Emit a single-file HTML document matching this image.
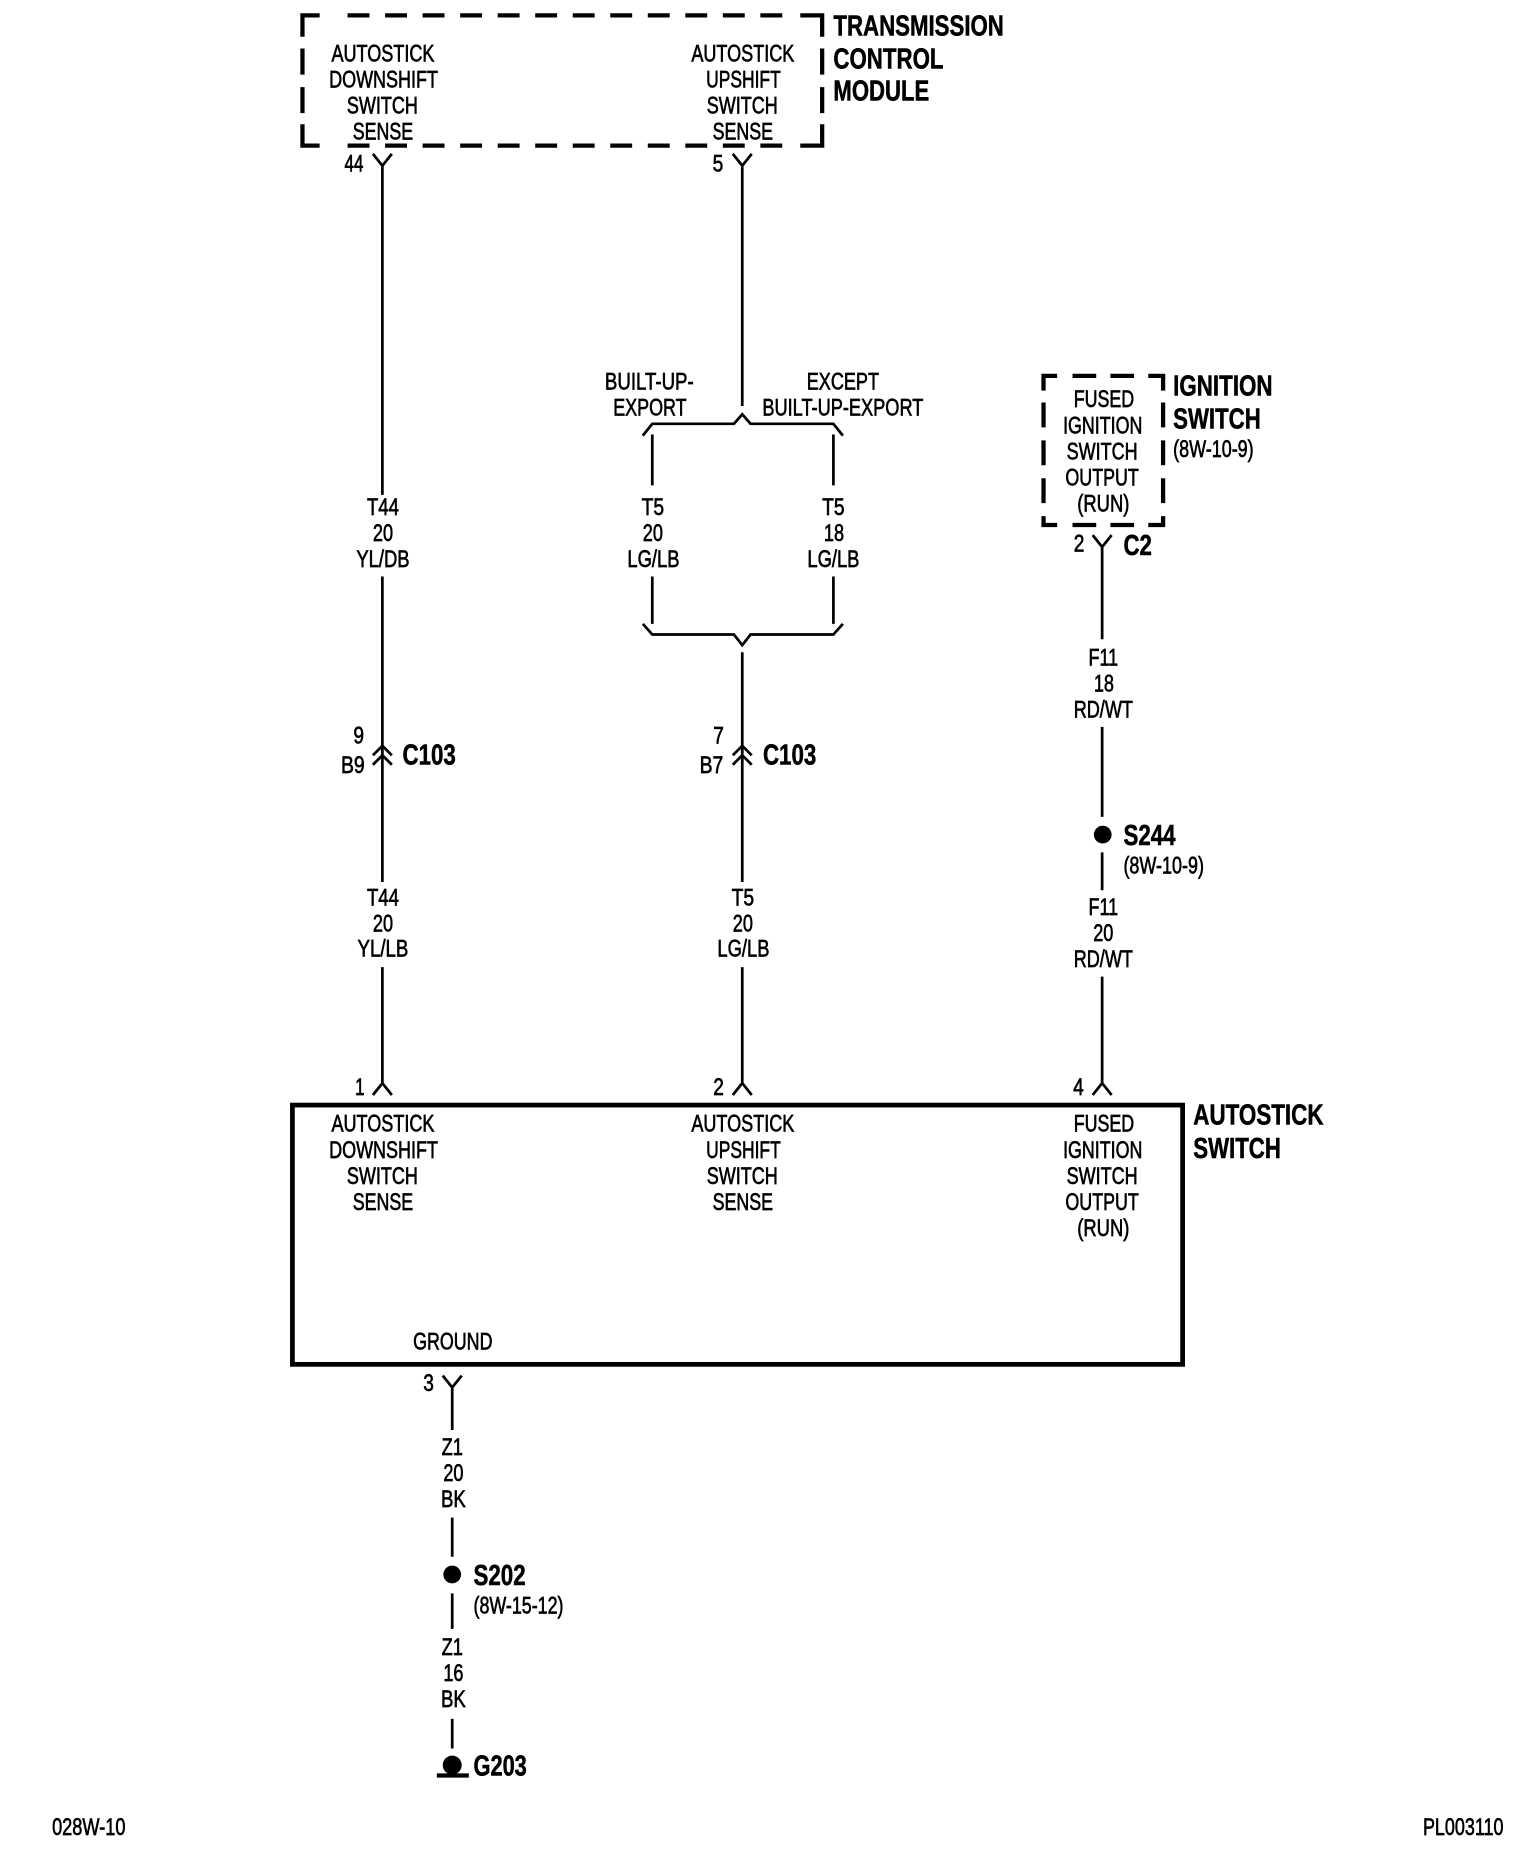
<!DOCTYPE html>
<html><head><meta charset="utf-8"><style>
html,body{margin:0;padding:0;background:#fff}
svg{display:block}
text{font-family:"Liberation Sans",sans-serif;fill:#000}
.r{font-size:20px;stroke:#000;stroke-width:.55px}
.m{text-anchor:middle}
.b{font-size:24px;font-weight:bold;stroke:#000;stroke-width:.45px}
.w{fill:none;stroke:#000;stroke-width:2.3}
.d{fill:none;stroke:#000;stroke-width:3.6}
</style></head><body>
<svg width="1536" height="1856" viewBox="0 0 1297.5 1567.8" xmlns="http://www.w3.org/2000/svg">
<rect width="1306" height="1578" fill="#fff"/>
<!-- TCM dashed box -->
<path class="d" d="M255.5 31V13H270M676 13H694.5V31M255.5 105V123H270M676 123H694.5V105"/>
<path class="d" stroke-dasharray="18.5 13.2" d="M293.6 13H661M293.6 123H661"/>
<path class="d" stroke-dasharray="22 10.6" d="M255.5 41V96M694.5 41V96"/>
<!-- Ignition dashed box -->
<path class="d" d="M881.5 330V317.5H893M970 317.5H982.5V330M881.5 436V443.5H893M970 443.5H982.5V436"/>
<path class="d" stroke-dasharray="20 12" d="M906 317.5H958M906 443.5H958"/>
<path class="d" stroke-dasharray="21 11" d="M881.5 340V425M982.5 340V425"/>
<!-- Autostick switch box -->
<rect x="247" y="933.5" width="752" height="219" fill="none" stroke="#000" stroke-width="4"/>
<!-- wire A -->
<path class="w" d="M315 130L323 140L331 130M323 140V418M323 487V745M315 638L323 630L331 638M315 646L323 638L331 646M323 817V915M315 925L323 915L331 925"/>
<!-- wire B -->
<path class="w" d="M619 130L627 140L635 130M627 140V343M543 368L551 358H620L627 350L634 358H704L712 368M551 367V410M704 367V410M551 487V527M704 487V527M543 527L551 536H620L627 545L634 536H704L712 527M627 551V745M619 638L627 630L635 638M619 646L627 638L635 646M627 817V915M619 925L627 915L635 925"/>
<!-- wire C -->
<path class="w" d="M923 452L931 462L939 452M931 462V540M931 614V690M931 720V752M931 825V915M923 925L931 915L939 925"/>
<circle cx="931.5" cy="705" r="7.5"/>
<!-- wire D -->
<path class="w" d="M374 1162L382 1172L390 1162M382 1172V1208M382 1282V1315M382 1346V1376M382 1452V1477"/>
<circle cx="382" cy="1330" r="7.5"/>
<circle cx="382" cy="1491" r="8"/>
<rect x="369" y="1498" width="27" height="3.6"/>
<!-- TCM labels -->
<text class="r m" x="323.5" y="52" textLength="87" lengthAdjust="spacingAndGlyphs">AUTOSTICK</text>
<text class="r m" x="324" y="74" textLength="92" lengthAdjust="spacingAndGlyphs">DOWNSHIFT</text>
<text class="r m" x="323" y="96" textLength="60" lengthAdjust="spacingAndGlyphs">SWITCH</text>
<text class="r m" x="323.5" y="118" textLength="51" lengthAdjust="spacingAndGlyphs">SENSE</text>
<text class="r m" x="627.5" y="52" textLength="87" lengthAdjust="spacingAndGlyphs">AUTOSTICK</text>
<text class="r m" x="628" y="74" textLength="63" lengthAdjust="spacingAndGlyphs">UPSHIFT</text>
<text class="r m" x="627" y="96" textLength="60" lengthAdjust="spacingAndGlyphs">SWITCH</text>
<text class="r m" x="627.5" y="118" textLength="51" lengthAdjust="spacingAndGlyphs">SENSE</text>
<text class="b" x="704" y="30" textLength="144" lengthAdjust="spacingAndGlyphs">TRANSMISSION</text>
<text class="b" x="704" y="58" textLength="93" lengthAdjust="spacingAndGlyphs">CONTROL</text>
<text class="b" x="704" y="85" textLength="81" lengthAdjust="spacingAndGlyphs">MODULE</text>
<text class="r" x="291" y="145" textLength="16" lengthAdjust="spacingAndGlyphs">44</text>
<text class="r" x="602" y="145" textLength="9" lengthAdjust="spacingAndGlyphs">5</text>
<!-- branch labels -->
<text class="r m" x="548.5" y="329" textLength="75" lengthAdjust="spacingAndGlyphs">BUILT-UP-</text>
<text class="r m" x="549" y="351" textLength="62" lengthAdjust="spacingAndGlyphs">EXPORT</text>
<text class="r m" x="712" y="329" textLength="61" lengthAdjust="spacingAndGlyphs">EXCEPT</text>
<text class="r m" x="712" y="351" textLength="136" lengthAdjust="spacingAndGlyphs">BUILT-UP-EXPORT</text>
<!-- wire labels A -->
<text class="r m" x="323.5" y="435" textLength="27" lengthAdjust="spacingAndGlyphs">T44</text>
<text class="r m" x="323.5" y="457" textLength="17" lengthAdjust="spacingAndGlyphs">20</text>
<text class="r m" x="323.5" y="479" textLength="45" lengthAdjust="spacingAndGlyphs">YL/DB</text>
<text class="r m" x="303" y="628" textLength="9" lengthAdjust="spacingAndGlyphs">9</text>
<text class="r m" x="298" y="653" textLength="20" lengthAdjust="spacingAndGlyphs">B9</text>
<text class="b" x="340" y="646" textLength="45" lengthAdjust="spacingAndGlyphs">C103</text>
<text class="r m" x="323.5" y="765" textLength="27" lengthAdjust="spacingAndGlyphs">T44</text>
<text class="r m" x="323.5" y="787" textLength="17" lengthAdjust="spacingAndGlyphs">20</text>
<text class="r m" x="323.5" y="808" textLength="43" lengthAdjust="spacingAndGlyphs">YL/LB</text>
<text class="r m" x="304" y="925" textLength="8" lengthAdjust="spacingAndGlyphs">1</text>
<!-- wire labels B -->
<text class="r m" x="551.5" y="435" textLength="19" lengthAdjust="spacingAndGlyphs">T5</text>
<text class="r m" x="551.5" y="457" textLength="17" lengthAdjust="spacingAndGlyphs">20</text>
<text class="r m" x="552" y="479" textLength="44" lengthAdjust="spacingAndGlyphs">LG/LB</text>
<text class="r m" x="704" y="435" textLength="19" lengthAdjust="spacingAndGlyphs">T5</text>
<text class="r m" x="704.5" y="457" textLength="17" lengthAdjust="spacingAndGlyphs">18</text>
<text class="r m" x="704" y="479" textLength="44" lengthAdjust="spacingAndGlyphs">LG/LB</text>
<text class="r m" x="607" y="628" textLength="9" lengthAdjust="spacingAndGlyphs">7</text>
<text class="r m" x="601" y="653" textLength="20" lengthAdjust="spacingAndGlyphs">B7</text>
<text class="b" x="644.5" y="646" textLength="45" lengthAdjust="spacingAndGlyphs">C103</text>
<text class="r m" x="627.5" y="765" textLength="19" lengthAdjust="spacingAndGlyphs">T5</text>
<text class="r m" x="627.5" y="787" textLength="17" lengthAdjust="spacingAndGlyphs">20</text>
<text class="r m" x="628" y="808" textLength="44" lengthAdjust="spacingAndGlyphs">LG/LB</text>
<text class="r m" x="607" y="925" textLength="9" lengthAdjust="spacingAndGlyphs">2</text>
<!-- Ignition -->
<text class="r m" x="932.5" y="344" textLength="51" lengthAdjust="spacingAndGlyphs">FUSED</text>
<text class="r m" x="931.5" y="366" textLength="67" lengthAdjust="spacingAndGlyphs">IGNITION</text>
<text class="r m" x="931" y="388" textLength="60" lengthAdjust="spacingAndGlyphs">SWITCH</text>
<text class="r m" x="931" y="410" textLength="62" lengthAdjust="spacingAndGlyphs">OUTPUT</text>
<text class="r m" x="932" y="432" textLength="44" lengthAdjust="spacingAndGlyphs">(RUN)</text>
<text class="b" x="991" y="334" textLength="84" lengthAdjust="spacingAndGlyphs">IGNITION</text>
<text class="b" x="991" y="362" textLength="74" lengthAdjust="spacingAndGlyphs">SWITCH</text>
<text class="r" x="991" y="386" textLength="68" lengthAdjust="spacingAndGlyphs">(8W-10-9)</text>
<text class="r m" x="911.5" y="466" textLength="9" lengthAdjust="spacingAndGlyphs">2</text>
<text class="b" x="949" y="469" textLength="24" lengthAdjust="spacingAndGlyphs">C2</text>
<text class="r m" x="932" y="562" textLength="25" lengthAdjust="spacingAndGlyphs">F11</text>
<text class="r m" x="932.5" y="584" textLength="17" lengthAdjust="spacingAndGlyphs">18</text>
<text class="r m" x="932" y="606" textLength="50" lengthAdjust="spacingAndGlyphs">RD/WT</text>
<text class="b" x="949" y="714" textLength="44" lengthAdjust="spacingAndGlyphs">S244</text>
<text class="r" x="949" y="738" textLength="68" lengthAdjust="spacingAndGlyphs">(8W-10-9)</text>
<text class="r m" x="932" y="773" textLength="25" lengthAdjust="spacingAndGlyphs">F11</text>
<text class="r m" x="932" y="795" textLength="17" lengthAdjust="spacingAndGlyphs">20</text>
<text class="r m" x="932" y="817" textLength="50" lengthAdjust="spacingAndGlyphs">RD/WT</text>
<text class="r m" x="911" y="925" textLength="9" lengthAdjust="spacingAndGlyphs">4</text>
<!-- Box labels -->
<text class="r m" x="323.5" y="956" textLength="87" lengthAdjust="spacingAndGlyphs">AUTOSTICK</text>
<text class="r m" x="324" y="978" textLength="92" lengthAdjust="spacingAndGlyphs">DOWNSHIFT</text>
<text class="r m" x="323" y="1000" textLength="60" lengthAdjust="spacingAndGlyphs">SWITCH</text>
<text class="r m" x="323.5" y="1022" textLength="51" lengthAdjust="spacingAndGlyphs">SENSE</text>
<text class="r m" x="627.5" y="956" textLength="87" lengthAdjust="spacingAndGlyphs">AUTOSTICK</text>
<text class="r m" x="628" y="978" textLength="63" lengthAdjust="spacingAndGlyphs">UPSHIFT</text>
<text class="r m" x="627" y="1000" textLength="60" lengthAdjust="spacingAndGlyphs">SWITCH</text>
<text class="r m" x="627.5" y="1022" textLength="51" lengthAdjust="spacingAndGlyphs">SENSE</text>
<text class="r m" x="932.5" y="956" textLength="51" lengthAdjust="spacingAndGlyphs">FUSED</text>
<text class="r m" x="931.5" y="978" textLength="67" lengthAdjust="spacingAndGlyphs">IGNITION</text>
<text class="r m" x="931" y="1000" textLength="60" lengthAdjust="spacingAndGlyphs">SWITCH</text>
<text class="r m" x="931" y="1022" textLength="62" lengthAdjust="spacingAndGlyphs">OUTPUT</text>
<text class="r m" x="932" y="1044" textLength="44" lengthAdjust="spacingAndGlyphs">(RUN)</text>
<text class="r m" x="382.5" y="1140" textLength="67" lengthAdjust="spacingAndGlyphs">GROUND</text>
<text class="b" x="1008" y="950" textLength="110" lengthAdjust="spacingAndGlyphs">AUTOSTICK</text>
<text class="b" x="1008" y="978" textLength="74" lengthAdjust="spacingAndGlyphs">SWITCH</text>
<!-- Ground wire labels -->
<text class="r m" x="362" y="1175" textLength="9" lengthAdjust="spacingAndGlyphs">3</text>
<text class="r m" x="382" y="1229" textLength="18" lengthAdjust="spacingAndGlyphs">Z1</text>
<text class="r m" x="383" y="1251" textLength="17" lengthAdjust="spacingAndGlyphs">20</text>
<text class="r m" x="383" y="1273" textLength="21" lengthAdjust="spacingAndGlyphs">BK</text>
<text class="b" x="400" y="1339" textLength="44" lengthAdjust="spacingAndGlyphs">S202</text>
<text class="r" x="400" y="1363" textLength="76" lengthAdjust="spacingAndGlyphs">(8W-15-12)</text>
<text class="r m" x="382" y="1398" textLength="18" lengthAdjust="spacingAndGlyphs">Z1</text>
<text class="r m" x="383" y="1420" textLength="17" lengthAdjust="spacingAndGlyphs">16</text>
<text class="r m" x="383" y="1442" textLength="21" lengthAdjust="spacingAndGlyphs">BK</text>
<text class="b" x="400" y="1500" textLength="45" lengthAdjust="spacingAndGlyphs">G203</text>
<!-- Footer -->
<text class="r" x="44" y="1550" textLength="62" lengthAdjust="spacingAndGlyphs">028W-10</text>
<text class="r" x="1202" y="1550" textLength="68" lengthAdjust="spacingAndGlyphs">PL003110</text>
</svg>
</body></html>
